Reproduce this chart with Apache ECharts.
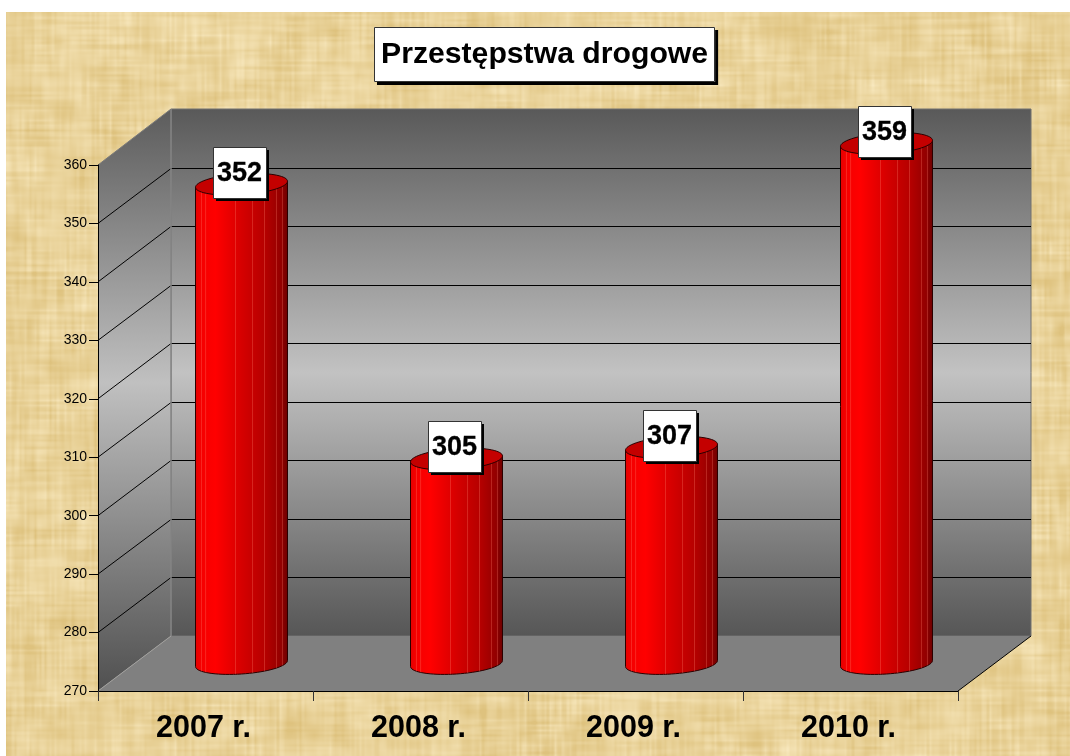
<!DOCTYPE html>
<html lang="pl">
	<head>
		<meta charset="utf-8" />
		<title>Przestępstwa drogowe</title>
		<style>
			html, body { margin: 0; padding: 0; background: #fff; }
		</style>
	</head>
	<body>
		<div id="main" style="width: 1070px;height: 756px"></div>

		<script src="https://cdn.jsdelivr.net/npm/echarts@6/dist/echarts.min.js"></script>
		<script type="text/javascript">
			const titleText = 'Przestępstwa drogowe';
			const categories = ['2007 r.', '2008 r.', '2009 r.', '2010 r.'];
			const values = [352, 305, 307, 359];
			const yTicks = [270, 280, 290, 300, 310, 320, 330, 340, 350, 360];

			const fontFamily = '"Liberation Sans", Arial, sans-serif';
			const depthX = 73;
			const depthY = 55;
			const radiusX = 46;
			const radiusY = 10.5;
			const tilt = 3;
			// facet edges of the cylinder, as a share of its width
			const facets = [0.065, 0.11, 0.435, 0.62, 0.75, 0.88, 0.945];

			// papyrus background, hashed so that it is the same on every load
			function hash(a, b) {
				const s = Math.sin(a * 127.1 + b * 311.7) * 43758.5453;
				return s - Math.floor(s);
			}
			function smooth(x, y, size) {
				const fx = x / size, fy = y / size;
				const ix = Math.floor(fx), iy = Math.floor(fy);
				const u = fx - ix, v = fy - iy;
				const top = hash(ix, iy) * (1 - u) + hash(ix + 1, iy) * u;
				const bottom = hash(ix, iy + 1) * (1 - u) + hash(ix + 1, iy + 1) * u;
				return top * (1 - v) + bottom * v;
			}
			function papyrus(width, height, marginX, marginY) {
				const canvas = document.createElement('canvas');
				canvas.width = width;
				canvas.height = height;
				const ctx = canvas.getContext('2d');
				ctx.fillStyle = '#fff';
				ctx.fillRect(0, 0, width, height);
				const img = ctx.getImageData(0, 0, width, height);
				const dark = [222, 194, 126];
				const light = [248, 232, 190];
				for (let y = marginY; y < height; y++) {
					for (let x = marginX; x < width; x++) {
						const patch = smooth(x, y, 28) * 0.55 + smooth(x + 500, y + 300, 11) * 0.45;
						const vertical = smooth(x, y * 0.06 + 900, 2.5) - 0.5;
						const horizontal = smooth(x * 0.06 + 700, y, 2.5) - 0.5;
						const strength = 0.35 + smooth(x + 90, y + 40, 24) * 0.65;
						let t = 0.42 + (patch - 0.5) * 0.7 + (vertical + horizontal) * 0.55 * strength;
						t = Math.max(0, Math.min(1, t));
						const i = (y * width + x) * 4;
						for (let c = 0; c < 3; c++) {
							img.data[i + c] = dark[c] + (light[c] - dark[c]) * t;
						}
					}
				}
				ctx.putImageData(img, 0, 0);
				return canvas;
			}

			function polygon(points, style) {
				return { type: 'polygon', shape: { points }, style };
			}
			function line(a, b, stroke, width) {
				return {
					type: 'line',
					shape: { x1: a[0], y1: a[1], x2: b[0], y2: b[1] },
					style: { stroke, lineWidth: width || 1, fill: null },
				};
			}
			function verticalFill(stops) {
				return new echarts.graphic.LinearGradient(0, 0, 0, 1, stops);
			}

			// floor, back wall, side wall and their grid lines
			function renderRoom(params, api) {
				const band = api.size([1, 0])[0];
				const left = api.coord([0, yTicks[0]])[0] - band / 2;
				const right = left + band * categories.length;
				const y = v => api.coord([0, v])[1];
				const bottom = y(yTicks[0]);
				const top = y(yTicks[yTicks.length - 1]);
				const children = [
					polygon(
						[[left + depthX, top - depthY - 1], [right + depthX, top - depthY - 1], [right + depthX, bottom - depthY], [left + depthX, bottom - depthY]],
						{
							fill: verticalFill([
								{ offset: 0, color: '#595959' },
								{ offset: 0.5, color: '#c2c2c2' },
								{ offset: 1, color: '#565656' },
							]),
							stroke: '#707070',
							lineWidth: 1,
						}
					),
					polygon(
						[[left, top], [left + depthX, top - depthY - 1], [left + depthX, bottom - depthY], [left, bottom]],
						{
							fill: verticalFill([
								{ offset: 0, color: '#5c5c5c' },
								{ offset: 0.47, color: '#c0c0c0' },
								{ offset: 1, color: '#505050' },
							]),
						}
					),
					polygon(
						[[left, bottom], [right, bottom], [right + depthX, bottom - depthY], [left + depthX, bottom - depthY]],
						{ fill: '#808080' }
					),
				];
				yTicks.slice(1, -1).forEach(v => {
					const backY = Math.floor(y(v) - depthY) + 0.5;
					children.push(line([left, y(v)], [left + depthX, backY], '#000'));
					children.push(line([left + depthX, backY], [right + depthX, backY], '#000'));
				});
				children.push(line([left + depthX, top - depthY - 1], [left + depthX, bottom - depthY], '#858585', 1.5));
				children.push(line([left, bottom], [left + depthX, bottom - depthY], '#a0a0a0'));
				children.push(line([left, top], [left + depthX, top - depthY - 1], '#7a7a7a'));
				children.push(line([right, bottom], [right + depthX, bottom - depthY], '#000'));
				return { type: 'group', children };
			}

			function ellipsePoint(cx, cy, t) {
				return [cx + radiusX * Math.cos(t), cy - tilt * Math.cos(t) + radiusY * Math.sin(t)];
			}

			// one cylinder with its value box
			function renderBar(params, api) {
				const index = api.value(0);
				const value = api.value(1);
				const basePoint = api.coord([index, yTicks[0]]);
				const topPoint = api.coord([index, value]);
				const cx = basePoint[0] + depthX / 2 - 0.5;
				const baseY = basePoint[1] - depthY / 2;
				const topY = topPoint[1] - depthY / 2;

				const outline = [ellipsePoint(cx, topY, Math.PI), ellipsePoint(cx, topY, 0)];
				for (let i = 0; i <= 36; i++) {
					outline.push(ellipsePoint(cx, baseY, (Math.PI * i) / 36));
				}
				const ring = [];
				for (let i = 0; i < 72; i++) {
					ring.push(ellipsePoint(cx, topY, (Math.PI * i) / 36));
				}

				const children = [
					polygon(outline, {
						fill: new echarts.graphic.LinearGradient(0, 0, 1, 0, [
							{ offset: 0, color: '#e20000' },
							{ offset: 0.06, color: '#f40000' },
							{ offset: 0.22, color: '#ff0000' },
							{ offset: 0.5, color: '#d60000' },
							{ offset: 0.75, color: '#b60000' },
							{ offset: 0.93, color: '#920000' },
							{ offset: 1, color: '#6a0000' },
						]),
						stroke: '#2a0000',
						lineWidth: 1,
					}),
				];
				facets.forEach(f => {
					const t = Math.acos(2 * f - 1);
					const upper = ellipsePoint(cx, topY, t);
					const lower = ellipsePoint(cx, baseY, t);
					children.push(line(upper, lower, 'rgba(255,130,110,0.3)'));
				});
				children.push(polygon(ring, { fill: '#c40000', stroke: '#2a0000', lineWidth: 1 }));

				const boxW = 53;
				const boxH = 51;
				const boxX = Math.round(cx - boxW / 2 - 2);
				const boxY = Math.round(topY - 12 - boxH / 2);
				children.push({
					type: 'rect',
					shape: { x: boxX + 3, y: boxY + 3, width: boxW, height: boxH },
					style: { fill: '#000' },
				});
				children.push({
					type: 'rect',
					shape: { x: boxX + 0.5, y: boxY + 0.5, width: boxW, height: boxH },
					style: { fill: '#fff', stroke: '#333', lineWidth: 1 },
				});
				children.push({
					type: 'text',
					style: {
						x: boxX + boxW / 2,
						y: boxY + boxH / 2 + 1,
						text: String(value),
						align: 'center',
						verticalAlign: 'middle',
						fill: '#000',
						stroke: '#000',
						lineWidth: 0.3,
						font: 'bold 27px ' + fontFamily,
					},
				});
				return { type: 'group', children };
			}

			const myChart = echarts.init(document.getElementById('main'));
			const option = {
				animation: false,
				backgroundColor: { image: papyrus(1070, 756, 6, 12), repeat: 'no-repeat' },
				title: {
					text: titleText,
					left: 374,
					top: 27,
					padding: [12, 7, 12, 7],
					backgroundColor: '#fff',
					shadowColor: '#000',
					shadowBlur: 0,
					shadowOffsetX: 3,
					shadowOffsetY: 3,
					textStyle: {
						fontFamily,
						fontWeight: 'bold',
						fontSize: 30.2,
						lineHeight: 31,
						color: '#000',
					},
				},
				grid: { left: 98, right: 112, top: 165, bottom: 65 },
				xAxis: {
					type: 'category',
					data: categories,
					z: 3,
					axisLine: { lineStyle: { color: '#000', width: 1 } },
					axisTick: { show: true, length: 10, lineStyle: { color: '#333' } },
					axisLabel: {
						fontFamily,
						fontWeight: 'bold',
						fontSize: 30.5,
						color: '#000',
						margin: 22,
						interval: 0,
						padding: [0, 4, 0, 0],
					},
				},
				yAxis: {
					type: 'value',
					min: yTicks[0],
					max: yTicks[yTicks.length - 1],
					interval: yTicks[1] - yTicks[0],
					z: 3,
					axisLine: { show: true, lineStyle: { color: '#000', width: 1 } },
					axisTick: { show: true, length: 9, lineStyle: { color: '#000' } },
					axisLabel: { fontFamily, fontSize: 14, color: '#000', margin: 11 },
					splitLine: { show: false },
				},
				series: [
					{
						type: 'custom',
						name: 'room',
						renderItem: renderRoom,
						data: [[0, yTicks[0]]],
						clip: false,
						silent: true,
						z: 1,
					},
					{
						type: 'custom',
						name: titleText,
						renderItem: renderBar,
						encode: { x: 0, y: 1 },
						data: values.map((v, i) => [i, v]),
						clip: false,
						z: 2,
					},
				],
				graphic: [
					{
						// thin outline of the title box, kept apart from its shadow
						type: 'rect',
						z: 100,
						silent: true,
						shape: { x: 374.5, y: 27.5, width: 340, height: 54 },
						style: { fill: null, stroke: '#333', lineWidth: 1 },
					},
				],
			};
			myChart.setOption(option);
		</script>
	</body>
</html>
